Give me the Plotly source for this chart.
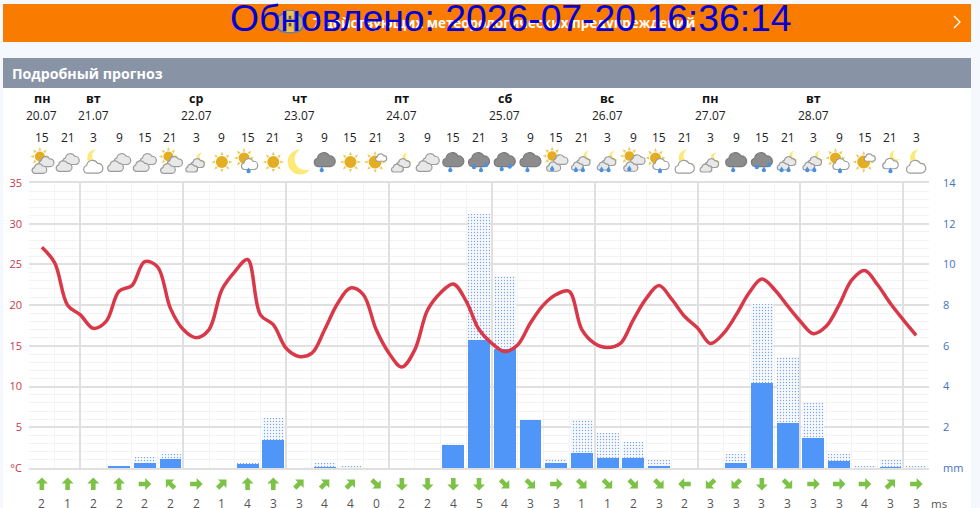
import base64
import math
import plotly.graph_objects as go

# Forecast step positions: one slot per 3-hour step
slots = list(range(35))
hours = [15, 21, 3, 9, 15, 21, 3, 9, 15, 21, 3, 9, 15, 21, 3, 9, 15, 21,
         3, 9, 15, 21, 3, 9, 15, 21, 3, 9, 15, 21, 3, 9, 15, 21, 3]

day_slots = [0, 2, 6, 10, 14, 18, 22, 26, 30]
day_names = ["пн", "вт", "ср", "чт", "пт", "сб", "вс", "пн", "вт"]
day_dates = ["20.07", "21.07", "22.07", "23.07", "24.07", "25.07", "26.07", "27.07", "28.07"]

# Air temperature, sampled every half slot
temp_slots = [i / 2 for i in range(69)]
temp_c = [27.1, 25.2, 20.0, 18.8, 17.15, 18.0, 21.7, 22.4, 25.35, 24.7,
          19.6, 17.0, 16.0, 17.0, 21.9, 24.1, 25.6, 18.8, 17.6, 14.7,
          13.7, 14.1, 17.0, 20.2, 22.1, 21.3, 17.0, 14.1, 12.4, 14.5,
          19.4, 21.5, 22.6, 20.5, 17.0, 15.3, 14.3, 15.1, 17.8, 20.0,
          21.3, 21.7, 17.0, 15.3, 14.8, 15.3, 18.2, 20.8, 22.4, 20.7,
          18.6, 17.2, 15.3, 16.5, 18.8, 21.5, 23.2, 21.9, 19.9, 18.0,
          16.5, 17.4, 20.0, 23.1, 24.25, 22.5, 20.2, 18.2, 16.3]

# Precipitation: certain amount and possible upper amount, mm
rain_mm = [0, 0, 0, 0.05, 0.23, 0.43, 0, 0, 0.2, 1.38, 0, 0.03, 0, 0, 0, 0, 1.13, 6.3,
           5.85, 2.35, 0.23, 0.72, 0.5, 0.5, 0.08, 0, 0, 0.23, 4.19, 2.2, 1.48, 0.35, 0, 0.03, 0]
rain_max_mm = [0, 0, 0, 0.08, 0.56, 0.7, 0, 0, 0.23, 2.46, 0, 0.25, 0.08, 0, 0, 0, 1.25, 12.5,
               9.44, 2.35, 0.41, 2.35, 1.74, 1.28, 0.41, 0, 0, 0.7, 8.08, 5.47, 3.2, 0.7, 0.1, 0.41, 0.08]

# Wind: speed in m/s and the compass bearing the arrow points to
wind_speed = [2, 1, 2, 2, 2, 2, 2, 1, 4, 3, 3, 4, 4, 0, 2, 2, 4, 5, 4, 3, 3, 1, 1, 2, 3,
              2, 3, 3, 3, 3, 3, 3, 4, 3, 3]
wind_bearing = [0, 0, 0, 0, 90, 315, 90, 45, 0, 0, 45, 45, 45, 135, 180, 180, 180, 180, 135,
                135, 90, 135, 135, 135, 135, 270, 225, 225, 180, 135, 90, 90, 90, 45, 90]

# Weather pictogram per step
icons = ["sun_clouds", "clouds", "moon_cloud", "clouds", "clouds", "sun_clouds", "moon_clouds",
         "sun", "sun_cloud_drop", "sun", "moon", "dark1", "sun", "sun_small_cloud", "moon_clouds",
         "clouds", "dark1", "dark3", "dark2", "dark1", "sun_clouds_drop", "moon_clouds_drops",
         "moon_clouds_drops", "sun_clouds_drop", "sun_cloud_drop", "moon_cloud", "moon_clouds",
         "dark1", "dark3", "moon_clouds_drops", "moon_clouds_drops", "sun_cloud_drop",
         "sun_small_cloud", "moon_cloud_drop", "moon_cloud"]

FONT = "Open Sans, Noto Sans, sans-serif"
GRID_MAJOR = "#e0e0e0"
GRID_MINOR = "#f3f3f3"
RED = "#d93848"
AXIS_RED = "#c8374c"
AXIS_BLUE = "#4472c4"
BAR_BLUE = "#5096f9"
ARROW_GREEN = "#7cc246"

# Plot frame in page pixels
L, R, T, B = 29, 929, 183, 468
SLOT_PX = (R - L) / 35


def px_x(px):
    return (px - L) / (R - L)


def px_y(py):
    return (B - py) / (B - T)


# --- pictogram pieces ---------------------------------------------------------
def cloud(cx, cy, s, fill, stroke):
    return (f'<path transform="translate({cx} {cy}) scale({s})" fill="{fill}" stroke="{stroke}" '
            f'stroke-width="{1.2 / s:.2f}" d="M-4.5 5 a3 3 0 0 1 -0.6 -5.9 a4.5 4.5 0 0 1 8.4 -1.6 '
            f'a3.6 3.6 0 0 1 0.7 7.5 z"/>')


def sun(cx, cy, r):
    rays = "".join(
        f'<path d="M-1.5 {-r - 1} L1.5 {-r - 1} L0 {-r - 4.6} z" fill="#eccb55" '
        f'transform="translate({cx} {cy}) rotate({a})"/>' for a in range(0, 360, 45))
    return rays + f'<circle cx="{cx}" cy="{cy}" r="{r}" fill="#e5ad22"/>'


def moon(cx, cy, r):
    return (f'<path fill="#fde977" d="M{cx + r * 0.2} {cy - r} a{r} {r} 0 1 0 {r * 0.8} {r * 1.55} '
            f'a{r * 0.85} {r * 0.85} 0 0 1 {-r * 0.8} {-r * 1.55} z"/>')


def drop(cx, cy, r=2.2):
    return f'<path fill="#4a90e2" d="M{cx} {cy - r * 1.6} L{cx + r} {cy} a{r} {r} 0 1 1 {-2 * r} 0 z"/>'


GREY_F, GREY_S = "#e8e8e8", "#9b9b9b"
DARK_F, DARK_S = "#8c8c8c", "#7a7a7a"
WHITE_F, WHITE_S = "#ffffff", "#9b9b9b"


def two_clouds(dx=0, dy=0, s=1.1):
    return (cloud(21.5 + dx, 15 + dy, s, GREY_F, GREY_S) +
            cloud(14.5 + dx, 22 + dy, 0.97 * s, GREY_F, GREY_S))


def small_clouds(dy=0):
    return (cloud(19.5, 19 + dy, 0.9, GREY_F, GREY_S) +
            cloud(13.5, 24 + dy, 0.8, GREY_F, GREY_S))


PICTOGRAMS = {
    "clouds": two_clouds(),
    "sun_clouds": sun(16, 12.5, 5) + two_clouds(1, 2.5, 1.02),
    "moon_cloud": moon(19, 14, 8.5) + cloud(18, 22.7, 1.3, WHITE_F, WHITE_S),
    "moon_clouds": moon(23, 14, 5.5) + small_clouds(),
    "sun": sun(18, 18, 6),
    "moon": moon(17, 18, 12.5),
    "sun_cloud_drop": sun(14.5, 14, 5.5) + cloud(20, 20, 1.1, WHITE_F, WHITE_S) + drop(19, 27),
    "sun_small_cloud": sun(17, 18, 6.5) + cloud(23, 13.5, 0.75, WHITE_F, WHITE_S),
    "moon_cloud_drop": moon(22, 12, 5.5) + cloud(18, 19.5, 1.05, WHITE_F, WHITE_S) + drop(18, 27),
    "dark1": cloud(18, 15.5, 1.42, DARK_F, DARK_S) + drop(15, 26),
    "dark2": cloud(18, 15.5, 1.42, DARK_F, DARK_S) + drop(15, 25) + drop(23, 22.5),
    "dark3": cloud(18, 15.5, 1.42, DARK_F, DARK_S) + drop(13, 23) + drop(20, 26) + drop(25, 21),
    "sun_clouds_drop": sun(14, 12, 4.8) + two_clouds(1, 0.5, 0.98) + drop(14, 25),
    "moon_clouds_drops": moon(24, 12, 5.2) + small_clouds(-2) + drop(12, 26) + drop(19, 26),
}


def icon_uri(svg_body):
    svg = (f'<svg xmlns="http://www.w3.org/2000/svg" width="36" height="36" viewBox="0 0 36 36">'
           f'{svg_body}</svg>')
    return "data:image/svg+xml;base64," + base64.b64encode(svg.encode()).decode()


fig = go.Figure()

# Possible precipitation: dotted bars behind the certain amount
fig.add_bar(x=slots, y=rain_max_mm, width=0.85, yaxis="y", hoverinfo="skip",
            marker=dict(color="#ffffff", line_width=0,
                        pattern=dict(shape=".", fgcolor="#0f4fb0", bgcolor="#f6faff",
                                     size=3, solidity=0.17)))
fig.add_bar(x=slots, y=rain_mm, width=0.85, yaxis="y", hoverinfo="skip",
            marker=dict(color=BAR_BLUE, line_width=0))
fig.add_scatter(x=temp_slots, y=temp_c, yaxis="y2", mode="lines", hoverinfo="skip",
                line=dict(color=RED, width=3.5, shape="spline", smoothing=1))

annotations = []


def label(x, py, text, size=12, color="#222", bold=False, xref="x", anchor="center",
          family=FONT, height=None):
    annotations.append(dict(
        x=x, y=px_y(py), xref=xref, yref="paper", text=f"<b>{text}</b>" if bold else text,
        showarrow=False, xanchor=anchor, yanchor="middle", borderpad=0, height=height,
        font=dict(size=size, color=color, family=family)))


for slot, name, date in zip(day_slots, day_names, day_dates):
    label(slot, 99, name, size=12.5, color="#111", bold=True)
    label(slot, 116, date, size=12, color="#222")

for slot, hour in zip(slots, hours):
    label(slot, 137, hour, size=12, color="#222")

for slot, speed in zip(slots, wind_speed):
    label(slot, 502.8, speed, size=12, color="#555", height=10)

label(px_x(930), 502.8, "ms", size=11.5, color="#555", xref="paper", anchor="left", height=10)

# Banner and section header texts
label(px_x(11), 74, "Подробный прогноз", size=14.2, color="#ffffff", bold=True, xref="paper", anchor="left")
label(px_x(504), 23, "7 действующих метеорологических предупреждений", size=13.4, color="#ffffff",
      bold=True, xref="paper")
label(px_x(511), 18, "Обновлено: 2026-07-20 16:36:14", size=37.3, color="#0000d8", xref="paper",
      family="Liberation Sans, Arial, sans-serif")


def wind_arrow(slot, bearing):
    """Block arrow in pixel units, anchored on the wind row under the given slot."""
    outline = [(0, 6.5), (6, 0.5), (2.3, 0.5), (2.3, -6), (-2.3, -6), (-2.3, 0.5), (-6, 0.5)]
    a = math.radians(bearing)
    pts = [(x * math.cos(a) + y * math.sin(a), -x * math.sin(a) + y * math.cos(a)) for x, y in outline]
    path = "M" + " L".join(f"{x:.2f},{y:.2f}" for x, y in pts) + " Z"
    return dict(type="path", path=path, xref="x", yref="paper", xsizemode="pixel", ysizemode="pixel",
                xanchor=slot, yanchor=px_y(484), fillcolor=ARROW_GREEN, line_width=0, layer="above")


images = [dict(source=icon_uri(PICTOGRAMS[name]), xref="x", yref="paper", x=slot, y=px_y(162),
               sizex=36 / SLOT_PX, sizey=36 / (B - T), xanchor="center", yanchor="middle",
               sizing="contain", layer="above")
          for slot, name in zip(slots, icons)]

# Warning badge on the banner
badge = ('<rect x="3" y="9" width="30" height="20" rx="8" fill="#c9a35a" stroke="#6f7f92" stroke-width="2"/>'
         '<rect x="13" y="5" width="10" height="25" rx="1" fill="#eec053" stroke="#6f7f92" stroke-width="1.4"/>'
         '<rect x="16.5" y="11" width="3" height="4" fill="#555"/><rect x="16.5" y="19" width="3" height="4" fill="#555"/>')
images.append(dict(source=icon_uri(badge), xref="paper", yref="paper", x=px_x(290), y=px_y(22),
                   sizex=32 / (R - L), sizey=32 / (B - T), xanchor="center", yanchor="middle",
                   sizing="contain", layer="above"))

panel_shapes = [
    # white page panel
    dict(type="rect", xref="paper", yref="paper", x0=px_x(3), x1=px_x(971), y0=px_y(88), y1=px_y(508),
         fillcolor="#ffffff", line_width=0, layer="below"),
    # warning banner
    dict(type="rect", xref="paper", yref="paper", x0=px_x(3), x1=px_x(971), y0=px_y(4), y1=px_y(42),
         fillcolor="#f97c00", line_width=0, layer="below"),
    # section header
    dict(type="rect", xref="paper", yref="paper", x0=px_x(3), x1=px_x(971), y0=px_y(58), y1=px_y(88),
         fillcolor="#8893a5", line_width=0, layer="below"),
    # banner chevron
    dict(type="path", path="M-3,6 L3,0 L-3,-6", xref="paper", yref="paper", xsizemode="pixel",
         ysizemode="pixel", xanchor=px_x(957), yanchor=px_y(22), line=dict(color="#ffffff", width=1.3),
         layer="above"),
]
arrow_shapes = [wind_arrow(s, b) for s, b in zip(slots, wind_bearing)]

fig.update_layout(
    width=980, height=508, autosize=False,
    margin=dict(l=L, r=980 - R, t=T, b=508 - B, pad=0, autoexpand=False),
    paper_bgcolor="#f5f8fc", plot_bgcolor="#ffffff",
    showlegend=False, barmode="overlay", bargap=0,
    annotations=annotations, images=images, shapes=panel_shapes + arrow_shapes,
    font=dict(family=FONT),
    xaxis=dict(range=[-0.5, 34.5], tick0=1.5, dtick=4, showticklabels=False, ticks="",
               showgrid=True, gridcolor=GRID_MAJOR, gridwidth=2,
               showline=True, linecolor=GRID_MAJOR, linewidth=2, mirror=True, zeroline=False,
               minor=dict(tick0=-0.5, dtick=1, showgrid=True, gridcolor=GRID_MINOR, gridwidth=1, ticks="")),
    yaxis=dict(side="right", range=[0, 14], tickvals=list(range(0, 16, 2)),
               ticktext=["mm", "2", "4", "6", "8", "10", "12", "14"],
               tickfont=dict(size=11, color=AXIS_BLUE, family=FONT), ticks="", ticklabelstandoff=13,
               showgrid=False, zeroline=False, showline=False),
    yaxis2=dict(side="left", overlaying="y", range=[0, 35], tickvals=list(range(0, 40, 5)),
                ticktext=["°C", "5", "10", "15", "20", "25", "30", "35"],
                tickfont=dict(size=11, color=AXIS_RED, family=FONT), ticks="", ticklabelstandoff=6,
                showgrid=True, gridcolor=GRID_MAJOR, gridwidth=2, zeroline=False, showline=False,
                minor=dict(dtick=1, showgrid=True, gridcolor=GRID_MINOR, gridwidth=1, ticks="")),
)

fig.write_html("out.html", config=dict(displayModeBar=False))
